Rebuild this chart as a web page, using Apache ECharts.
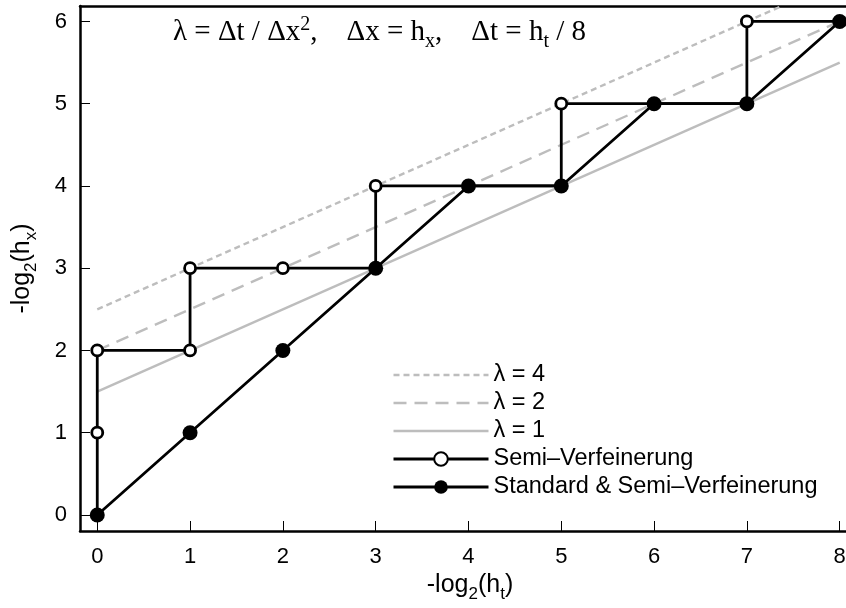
<!DOCTYPE html>
<html>
<head>
<meta charset="utf-8">
<script src="https://cdn.jsdelivr.net/npm/echarts@6/dist/echarts.min.js"></script>
<style>
  html, body { margin: 0; padding: 0; background: #fff; }
  #chart { width: 846px; height: 608px; }
</style>
</head>
<body>
<div id="chart"></div>
<script>
// Achsen-Ticks
var xTicks = [0, 1, 2, 3, 4, 5, 6, 7, 8];
var yTicks = [0, 1, 2, 3, 4, 5, 6];

// Referenzgeraden lambda = 4, 2, 1 (Endpunkte)
var lam4X = [0, 7.36], lam4Y = [2.5, 6.18];
var lam2X = [0, 8],    lam2Y = [2, 6];
var lam1X = [0, 8],    lam1Y = [1.5, 5.5];

// Semi-Verfeinerung: Pfad und offene Punkte (1 = offener Kreis)
var semiX    = [0, 0, 0, 1, 1, 2, 3, 3, 4, 5, 5, 6, 7, 7, 8];
var semiY    = [0, 1, 2, 2, 3, 3, 3, 4, 4, 4, 5, 5, 5, 6, 6];
var semiOpen = [0, 1, 1, 1, 1, 1, 0, 1, 0, 0, 1, 0, 0, 1, 0];

// Standard & Semi-Verfeinerung
var stdX = [0, 1, 2, 3, 4, 5, 6, 7, 8];
var stdY = [0, 1, 2, 3, 4, 4, 5, 5, 6];

var legendNames = ['λ = 4', 'λ = 2', 'λ = 1', 'Semi\u2013Verfeinerung', 'Standard & Semi\u2013Verfeinerung'];

function pairs(xs, ys) {
    var out = [];
    for (var i = 0; i < xs.length; i++) out.push([xs[i], ys[i]]);
    return out;
}

var semiData = [];
for (var i = 0; i < semiX.length; i++) {
    var item = { value: [semiX[i], semiY[i]] };
    if (!semiOpen[i]) item.symbol = 'none';
    semiData.push(item);
}

var sans = 'Liberation Sans, Arial, Helvetica, sans-serif';
var serif = 'Liberation Serif, Times New Roman, serif';
var gray = '#bdbdbd';
var lw = 2.8;

// Text mit Hoch-/Tiefstellung ueber rich text
function richSet(family, size, small, base, up) {
    return {
        a:   { fontFamily: family, fontSize: size,  fontWeight: 'normal', color: '#000', verticalAlign: 'bottom', padding: [0, 0, base, 0] },
        sup: { fontFamily: family, fontSize: small, fontWeight: 'normal', color: '#000', verticalAlign: 'bottom', padding: [0, 0, up, 0] },
        sub: { fontFamily: family, fontSize: small, fontWeight: 'normal', color: '#000', verticalAlign: 'bottom', padding: [0, 0, 0, 0] }
    };
}

var chart = echarts.init(document.getElementById('chart'));

var legendData = legendNames.map(function (n, i) {
    // Hilfsgeraden ohne Symbol in der Legende
    return i < 3
        ? { name: n, itemStyle: { opacity: 0 }, lineStyle: { width: 2.4 } }
        : { name: n, lineStyle: { width: 3 } };
});

var option = {
    animation: false,
    backgroundColor: '#fff',
    title: {
        left: 168,
        top: 10,
        text: '{a|λ = Δt / Δx}{sup|2}{a|,    Δx = h}{sub|x}{a|,    Δt = h}{sub|t}{a| / 8}',
        textStyle: { fontWeight: 'normal', rich: richSet(serif, 29, 20, 5, 17) }
    },
    legend: {
        orient: 'vertical',
        left: 387,
        top: 358,
        itemWidth: 95,
        itemHeight: 17,
        itemGap: 4,
        data: legendData,
        textStyle: { fontFamily: sans, fontSize: 23.5, color: '#000' }
    },
    grid: { left: 80, right: 0, top: 6, bottom: 77, containLabel: false, outerBoundsMode: 'none' },
    xAxis: [{
        type: 'value',
        min: -0.186,
        max: 8.068,
        name: '{a|-log}{sub|2}{a|(h}{sub|t}{a|)}',
        nameLocation: 'middle',
        nameGap: 38,
        nameTextStyle: {
            padding: [0, 0, 0, 14],
            rich: richSet(sans, 25, 17, 5, 0)
        },
        axisLine: { show: true, onZero: false, lineStyle: { color: '#000', width: 2.5 } },
        axisTick: { show: true, inside: true, length: 10, customValues: xTicks, lineStyle: { color: '#000', width: 1 } },
        axisLabel: { customValues: xTicks, margin: 15, fontFamily: sans, fontSize: 22, color: '#000' },
        splitLine: { show: false }
    }, {
        type: 'value',
        position: 'top',
        min: -0.186,
        max: 8.068,
        axisLine: { show: true, onZero: false, lineStyle: { color: '#000', width: 2.5 } },
        axisTick: { show: false },
        axisLabel: { show: false },
        splitLine: { show: false }
    }],
    yAxis: {
        type: 'value',
        min: -0.195,
        max: 6.188,
        name: '{a|-log}{sub|2}{a|(h}{sub|x}{a|)}',
        nameLocation: 'middle',
        nameRotate: 90,
        nameGap: 40,
        nameTextStyle: {
            rich: richSet(sans, 25, 17, 5, 0)
        },
        axisLine: { show: true, onZero: false, lineStyle: { color: '#000', width: 2.5 } },
        axisTick: { show: true, inside: true, length: 10, customValues: yTicks, lineStyle: { color: '#000', width: 1 } },
        axisLabel: { customValues: yTicks, margin: 13, fontFamily: sans, fontSize: 22, color: '#000' },
        splitLine: { show: false }
    },
    series: [
        {
            name: legendNames[0], type: 'line', data: pairs(lam4X, lam4Y), symbol: 'none', z: 1,
            lineStyle: { color: gray, width: 2.4, type: [6, 4] }, itemStyle: { color: gray }
        },
        {
            name: legendNames[1], type: 'line', data: pairs(lam2X, lam2Y), symbol: 'none', z: 1,
            lineStyle: { color: gray, width: 2.4, type: [13, 8] }, itemStyle: { color: gray }
        },
        {
            name: legendNames[2], type: 'line', data: pairs(lam1X, lam1Y), symbol: 'none', z: 1,
            lineStyle: { color: gray, width: 2.4 }, itemStyle: { color: gray }
        },
        {
            name: legendNames[3], type: 'line', data: semiData, symbol: 'circle', symbolSize: 11, z: 3,
            showAllSymbol: true,
            lineStyle: { color: '#000', width: lw },
            itemStyle: { color: '#fff', borderColor: '#000', borderWidth: lw }
        },
        {
            name: legendNames[4], type: 'line', data: pairs(stdX, stdY), symbol: 'circle', symbolSize: 15, z: 4,
            showAllSymbol: true,
            lineStyle: { color: '#000', width: lw },
            itemStyle: { color: '#000', borderWidth: 0 }
        }
    ]
};

chart.setOption(option);
</script>
</body>
</html>
